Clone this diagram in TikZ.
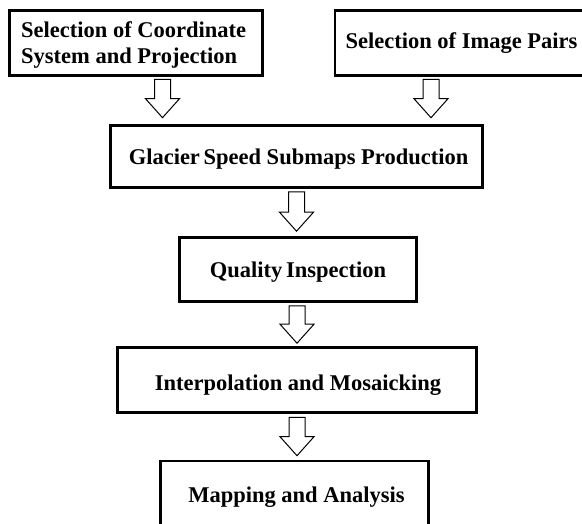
\documentclass[tikz,border=0pt]{standalone}
\usepackage{fontspec}
\setmainfont{Liberation Serif}
\usetikzlibrary{calc}

% hollow block arrow from a top point #1 down to a tip point #2
\newcommand\blockarrow[2]{%
  \draw[hollow] let \p1=(#1), \p2=(#2) in
    (\x1-8pt,\y1) -- (\x1+8pt,\y1) -- (\x1+8pt,\y2+19pt) -- (\x1+17pt,\y2+19pt)
    -- (\x1,\y2) -- (\x1-17pt,\y2+19pt) -- (\x1-8pt,\y2+19pt) -- cycle;}

\begin{document}
\begin{tikzpicture}[x=1pt,y=-1pt,
  box/.style={draw, line width=2.6pt, inner sep=0pt},
  lbl/.style={font=\fontsize{22.5}{26}\selectfont\bfseries, inner sep=0pt, anchor=base},
  hollow/.style={draw, line width=1pt, fill=white, line join=miter}]
\useasboundingbox (0,0) rectangle (582,523);
\fill[white] (0,0) rectangle (582,523);
\begin{scope}
\clip (0,0) rectangle (582,523);

% process boxes
\node[box, minimum width=253pt, minimum height=65pt] (coord) at (136,43) {};
\node[box, minimum width=266pt, minimum height=65pt] (pairs) at (468,43) {};
\node[box, minimum width=372pt, minimum height=62pt] (submaps) at (296.5,156.5) {};
\node[box, minimum width=237pt, minimum height=64pt] (quality) at (298,269.5) {};
\node[box, minimum width=359pt, minimum height=65pt] (mosaic) at (297,380) {};
\node[box, minimum width=268pt, minimum height=80pt] (mapping) at (294.5,501) {};

% box texts
\node[lbl, anchor=base west] (coordA) at (21,37) {Selection of Coordinate};
\node[lbl, anchor=base west] (coordB) at (21,63) {System and Projection};
\node[lbl] (pairsT) at (461.5,48) {Selection of Image Pairs};
\node[lbl] (submapsT) at (298.5,164) {Glacier\hspace{-2pt} Speed Submaps Production};
\node[lbl] (qualityT) at (298,277) {Quality\hspace{-2pt} Inspection};
\node[lbl] (mosaicT) at (298,390) {Interpolation and Mosaicking};
\node[lbl] (mappingT) at (296.5,502) {Mapping and Analysis};

% arrow anchor points
\coordinate (a1top) at ([xshift=26.5pt,yshift=-2.5pt]coord.south);
\coordinate (a1tip) at ($(a1top |- submaps.north)+(0,-6.5)$);
\coordinate (a2top) at ([xshift=-37pt,yshift=-2.5pt]pairs.south);
\coordinate (a2tip) at ($(a2top |- submaps.north)+(0,-6.5)$);
\coordinate (a3top) at ([yshift=-3pt]submaps.south);
\coordinate (a3tip) at ($(a3top |- quality.north)+(0,-5)$);
\coordinate (a4top) at ([xshift=-1pt,yshift=-3pt]quality.south);
\coordinate (a4tip) at ($(a4top |- mosaic.north)+(0,-3)$);
\coordinate (a5top) at ([yshift=-3.5pt]mosaic.south);
\coordinate (a5tip) at ($(a5top |- mapping.north)+(0,-4)$);

% connectors
\blockarrow{a1top}{a1tip}
\blockarrow{a2top}{a2tip}
\blockarrow{a3top}{a3tip}
\blockarrow{a4top}{a4tip}
\blockarrow{a5top}{a5tip}
\end{scope}
\end{tikzpicture}
\end{document}
